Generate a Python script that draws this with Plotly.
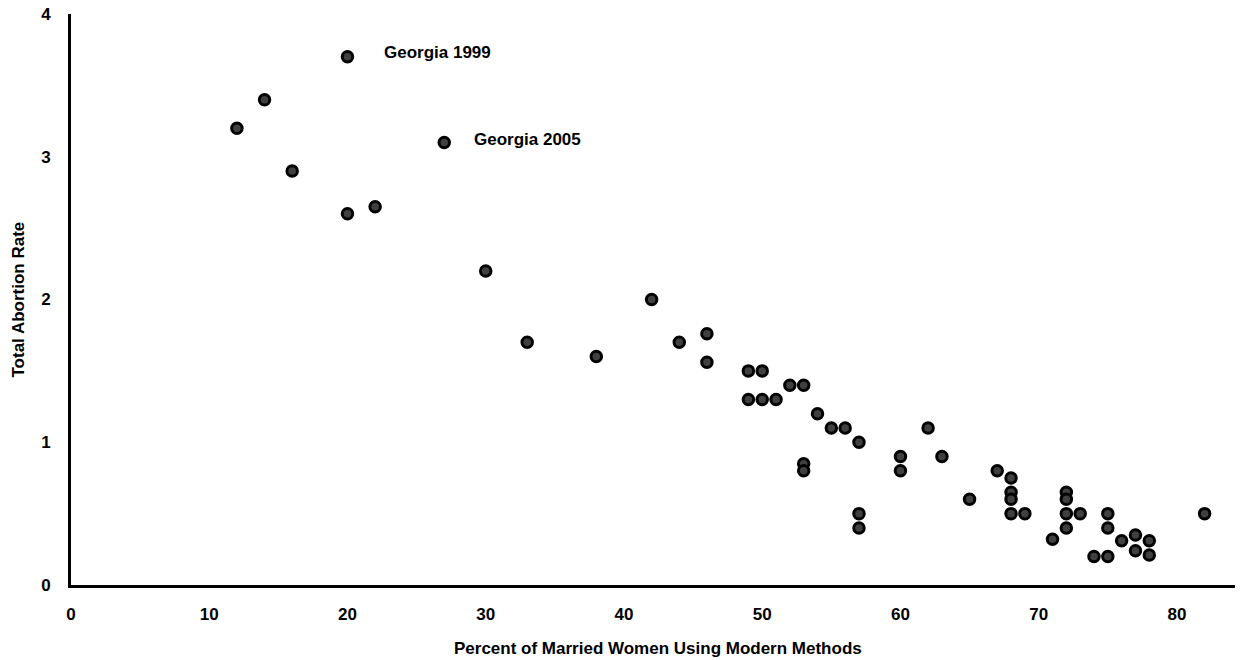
import plotly.graph_objects as go

x_vals = [20, 14, 12, 16, 20, 22, 27, 30, 33, 38,
          42, 44, 46, 46, 49, 50, 49, 50, 51, 52, 53, 54, 55, 56, 57,
          53, 53, 57, 57, 60, 60, 62, 63, 65, 67,
          68, 68, 68, 68, 69, 71, 72, 72, 72, 72, 73,
          74, 75, 75, 75, 76, 77, 77, 78, 78, 82]
y_vals = [3.7, 3.4, 3.2, 2.9, 2.6, 2.65, 3.1, 2.2, 1.7, 1.6,
          2.0, 1.7, 1.76, 1.56, 1.5, 1.5, 1.3, 1.3, 1.3, 1.4, 1.4, 1.2, 1.1, 1.1, 1.0,
          0.85, 0.8, 0.5, 0.4, 0.9, 0.8, 1.1, 0.9, 0.6, 0.8,
          0.75, 0.65, 0.6, 0.5, 0.5, 0.32, 0.65, 0.6, 0.5, 0.4, 0.5,
          0.2, 0.5, 0.4, 0.2, 0.31, 0.35, 0.24, 0.31, 0.21, 0.5]

label_text = ["Georgia 1999", "Georgia 2005"]
label_x = [22.5, 29.0]
label_y = [3.73, 3.12]

x_ticks = [0, 10, 20, 30, 40, 50, 60, 70, 80]
y_ticks = [0, 1, 2, 3, 4]

x_title = "Percent of Married Women Using Modern Methods"
y_title = "Total Abortion Rate"

FONT = "Arial, 'Liberation Sans', sans-serif"

fig = go.Figure()
fig.add_trace(go.Scatter(
    x=x_vals, y=y_vals, mode="markers",
    marker=dict(size=10.5, color="#404040", line=dict(color="#000000", width=3)),
    showlegend=False, hoverinfo="x+y",
))

for t, lx, ly in zip(label_text, label_x, label_y):
    fig.add_annotation(x=lx, y=ly, text="<b>" + t + "</b>", showarrow=False,
                       xanchor="left", yanchor="middle",
                       font=dict(family=FONT, size=17, color="#000000"))

# axis titles
fig.add_annotation(x=0.504, y=0, xref="paper", yref="paper", yshift=-63,
                   text="<b>" + x_title + "</b>", showarrow=False,
                   xanchor="center", yanchor="middle",
                   font=dict(family=FONT, size=17, color="#000000"))
fig.add_annotation(x=0, y=0.5, xref="paper", yref="paper", xshift=-53,
                   text="<b>" + y_title + "</b>", showarrow=False, textangle=-90,
                   xanchor="center", yanchor="middle",
                   font=dict(family=FONT, size=17, color="#000000"))

fig.update_layout(
    width=1246, height=660,
    margin=dict(l=71, r=11, t=14, b=75),
    paper_bgcolor="white", plot_bgcolor="white",
    font=dict(family=FONT, size=17, color="#000000"),
    xaxis=dict(range=[0, 84.2], tickvals=x_ticks, ticktext=[f"<b>{v}</b>" for v in x_ticks],
               showgrid=False, zeroline=False, showline=True, linecolor="#000000", linewidth=3,
               ticks="", ticklabelstandoff=12, tickfont=dict(family=FONT, size=17),
               automargin=False),
    yaxis=dict(range=[0, 4], tickvals=y_ticks, ticktext=[f"<b>{v}</b>" for v in y_ticks],
               showgrid=False, zeroline=False, showline=True, linecolor="#000000", linewidth=3,
               ticks="", ticklabelstandoff=14, tickfont=dict(family=FONT, size=17),
               automargin=False),
)

fig.write_html("out.html")
